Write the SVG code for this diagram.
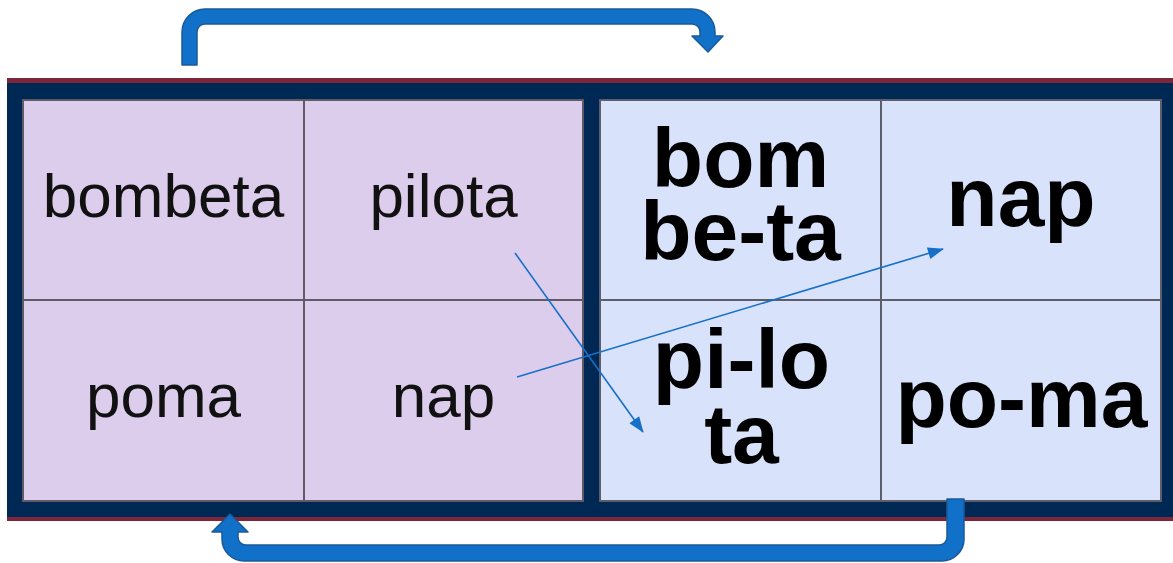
<svg xmlns="http://www.w3.org/2000/svg" width="1173" height="563" viewBox="0 0 1173 563">
<defs>
<style>
.cellL{fill:#DCCDEC;stroke:#5E5A66;stroke-width:2}
.cellR{fill:#D8E2FA;stroke:#5E5E6A;stroke-width:2}
.tL{font-family:"Liberation Sans",Arial,sans-serif;font-size:62px;fill:#111;text-anchor:middle}
.tR{font-family:"Liberation Sans",Arial,sans-serif;font-size:84px;font-weight:bold;fill:#000;text-anchor:middle}
.thin{stroke:#1670C8;stroke-width:1.6;fill:none;marker-end:url(#ah)}
.big{fill:#1170C8;stroke:#1A5A98;stroke-width:1.5;stroke-linejoin:round}
</style>
<marker id="ah" viewBox="0 0 16 12" refX="15" refY="6" markerWidth="16" markerHeight="12" markerUnits="userSpaceOnUse" orient="auto" overflow="visible">
<path d="M0,0 L16,6 L0,12 Z" fill="#1670C8"/>
</marker>
</defs>
<rect x="7" y="78" width="1166" height="443" fill="#7E2639"/>
<rect x="7" y="83" width="1166" height="434" fill="#002855"/>
<g id="cell-bombeta"><rect class="cellL" x="23" y="100" width="281" height="200"/><text class="tL" x="163.5" y="217">bombeta</text></g>
<g id="cell-pilota"><rect class="cellL" x="304" y="100" width="279" height="200"/><text class="tL" x="443.5" y="217">pilota</text></g>
<g id="cell-poma"><rect class="cellL" x="23" y="300" width="281" height="201"/><text class="tL" x="163.5" y="417">poma</text></g>
<g id="cell-nap"><rect class="cellL" x="304" y="300" width="279" height="201"/><text class="tL" x="443.5" y="417">nap</text></g>
<g id="cell-bom-be-ta"><rect class="cellR" x="600" y="100" width="281" height="200"/><text class="tR" x="740.5" y="187">bom</text><text class="tR" x="740.5" y="260">be-ta</text></g>
<g id="cell-nap-b"><rect class="cellR" x="881" y="100" width="280" height="200"/><text class="tR" x="1021" y="226">nap</text></g>
<g id="cell-pi-lo-ta"><rect class="cellR" x="600" y="300" width="281" height="201"/><text class="tR" x="741.5" y="388">pi-lo</text><text class="tR" x="741.5" y="463">ta</text></g>
<g id="cell-po-ma"><rect class="cellR" x="881" y="300" width="280" height="201"/><text class="tR" x="1021.5" y="427">po-ma</text></g>
<g id="connectors">
<path class="big" d="M182,65 L182,32 A23,23 0 0 1 205,9 L692,9 A23,23 0 0 1 715,32 L715,36 L723,36 L708,52 L692,36 L700,36 L700,32 A8,8 0 0 0 692,24 L205,24 A8,8 0 0 0 197,32 L197,65 Z"/>
<path class="big" d="M947,499 L964,499 L964,539 A22,22 0 0 1 942,561 L244,561 A22,22 0 0 1 222,539 L222,532 L212,532 L230,514 L248,532 L238,532 L238,537 A8,8 0 0 0 246,545 L939,545 A8,8 0 0 0 947,537 Z"/>
<line class="thin" x1="515" y1="253" x2="643" y2="432"/>
<line class="thin" x1="517" y1="377" x2="943" y2="249"/>
</g>
</svg>
